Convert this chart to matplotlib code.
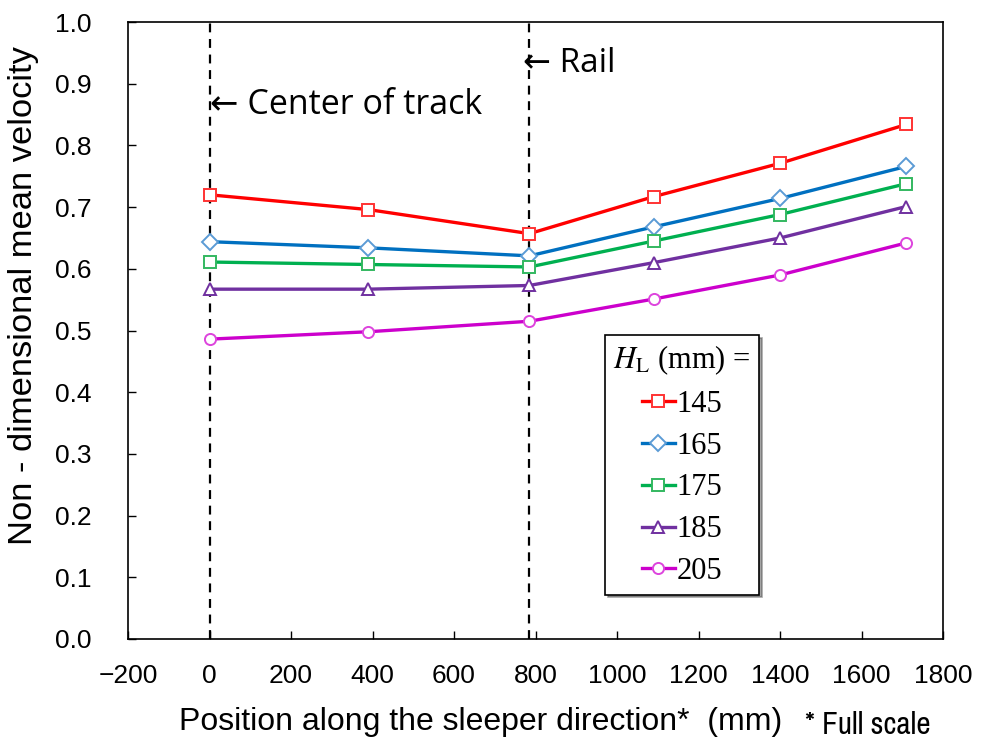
import numpy as np
import matplotlib
matplotlib.use('Agg')
import matplotlib.pyplot as plt

plt.rcParams['font.family'] = ['Liberation Sans', 'DejaVu Sans']
plt.rcParams['mathtext.fontset'] = 'stix'

# ---- data ----
positions = [0, 390, 785, 1090, 1400, 1710]
heights = ['145', '165', '175', '185', '205']
v145 = [0.720, 0.696, 0.657, 0.717, 0.771, 0.834]
v165 = [0.644, 0.634, 0.621, 0.668, 0.714, 0.766]
v175 = [0.611, 0.607, 0.603, 0.645, 0.688, 0.738]
v185 = [0.567, 0.567, 0.573, 0.610, 0.650, 0.701]
v205 = [0.486, 0.498, 0.515, 0.551, 0.590, 0.642]
center_x = 0
rail_x = 785
xticks = list(range(-200, 1801, 200))
yticks = [round(0.1 * i, 1) for i in range(11)]

series = [v145, v165, v175, v185, v205]
colors = ['#ff0000', '#0070c0', '#00b050', '#7030a0', '#cc00cc']
edge_colors = ['#ff3333', '#5b9bd5', '#33b860', '#7030a0', '#dd44dd']
markers = ['s', 'D', 's', '^', 'o']
msizes = [8, 8.5, 8, 8, 8]

fig = plt.figure(figsize=(9.81, 7.47), dpi=100)
ax = fig.add_axes([0.1305, 0.1446, 0.8308, 0.8259])

for vals, lab, c, ec, m, ms in zip(series, heights, colors, edge_colors, markers, msizes):
    ax.plot(positions, vals, color=c, lw=2.4, marker=m, ms=ms,
            mfc='white', mec=ec, mew=1.4, label=lab, zorder=3)

ax.axvline(center_x, color='black', ls=(0, (4, 3)), lw=1.6, zorder=2)
ax.axvline(rail_x, color='black', ls=(0, (4, 3)), lw=1.6, zorder=2)

ann_font = ['Open Sans', 'DejaVu Sans']
ax.text(center_x, 0.865, '\u2190 Center of track', fontsize=24.5, family=ann_font,
        va='center', ha='left')
ax.text(rail_x - 15, 0.932, '\u2190 Rail', fontsize=24, family=ann_font,
        va='center', ha='left')

ax.set_xlim(-200, 1800)
ax.set_ylim(0, 1.0)
ax.set_xticks(xticks)
ax.set_yticks(yticks)
ax.set_xticklabels(['\u2212200' if v < 0 else str(v) for v in xticks])
ax.set_yticklabels([f'{v:.1f}' for v in yticks])
ax.tick_params(direction='in', length=6, width=1, labelsize=19)
ax.tick_params(axis='x', pad=18)
ax.tick_params(axis='y', pad=26)
for s in ax.spines.values():
    s.set_linewidth(1.2)

fig.text(24 / 981, 1 - 296 / 747, 'Non - dimensional mean velocity', fontsize=24.8,
         rotation=90, ha='center', va='center')
fig.text(0.182, 0.034, 'Position along the sleeper direction*  (mm)', fontsize=23,
         ha='left', va='center')
fig.text(0.821, 0.029, '* Full scale', fontsize=22.5,
         family=['Archivo Narrow', 'Liberation Sans'], ha='left', va='center')

leg = ax.legend(loc='upper left', bbox_to_anchor=(0.585, 0.493),
                title=r'$H_\mathrm{L}$ (mm) =',
                prop={'family': 'Liberation Serif', 'size': 22},
                title_fontproperties={'family': 'Liberation Serif', 'size': 22},
                frameon=True, fancybox=False, shadow=True, edgecolor='black',
                handlelength=1.1, handletextpad=0.05, labelspacing=0.42,
                borderpad=0.28, borderaxespad=0)
leg.get_frame().set_linewidth(1.2)

fig.savefig('out.png', dpi=100)
